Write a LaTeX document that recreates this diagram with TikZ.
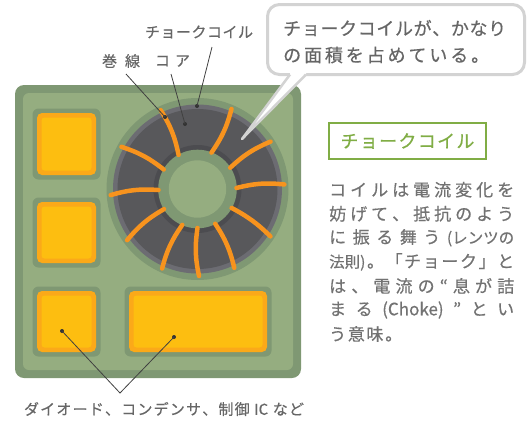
\documentclass[tikz,border=0pt]{standalone}
\usepackage{fontspec}
\newfontfamily\jpfont[FakeBold=0.5]{Noto Sans CJK JP}
\usepackage{tikz}

\definecolor{boardedge}{HTML}{7F9873}
\definecolor{boardfill}{HTML}{95AD80}
\definecolor{padorange}{HTML}{FBA919}
\definecolor{padyellow}{HTML}{FDBE10}
\definecolor{corerim}{HTML}{6C6C72}
\definecolor{coregray}{HTML}{58585B}
\definecolor{coreshade}{HTML}{4C4C50}
\definecolor{wire}{HTML}{F7931E}
\definecolor{labelgray}{HTML}{666666}
\definecolor{bodygray}{HTML}{727272}
\definecolor{bubbleline}{HTML}{D3D3D3}
\definecolor{titlegreen}{HTML}{80AD45}

% spread the units of #2 evenly over a box of width #1
\def\spreadmark{\relax}
\def\spreadfirst#1{\def\spreadtmp{#1}\ifx\spreadtmp\spreadmark\else{#1}\expandafter\spreadrest\fi}
\def\spreadrest#1{\def\spreadtmp{#1}\ifx\spreadtmp\spreadmark\else\hfil{#1}\expandafter\spreadrest\fi}
\newcommand\spreadline[2]{\hbox to #1{\spreadfirst#2\relax}}
\newcommand\smallpart{\fontsize{15.5pt}{18pt}\selectfont}

\begin{document}
\begin{tikzpicture}[x=1pt, y=-1pt,
		jp/.style={font=\jpfont\fontsize{15pt}{18pt}\selectfont, text=labelgray, inner sep=0pt},
		body/.style={font=\jpfont\fontsize{17pt}{20pt}\selectfont, text=bodygray, inner sep=0pt, anchor=west},
		note/.style={font=\jpfont\fontsize{18pt}{21pt}\selectfont, text=labelgray, inner sep=0pt, anchor=west},
		leader/.style={draw=black!75, line width=0.8pt},
		leaddot/.style={circle, fill=black!80, inner sep=0pt, minimum size=4pt},
		wind/.style={draw=wire, line width=4.5pt, line cap=round}]
	
	\useasboundingbox (0,0) rectangle (528,421);
	
	% board
	\fill[boardedge, rounded corners=9pt] (15,85) rectangle (301,378);
	\fill[boardfill, rounded corners=6pt] (23,93) rectangle (293,370);
	
	% pads
	\foreach \xa/\ya/\xb/\yb in {37/113/96/175, 37/202/96/263, 37/291/96/352, 129/291/267/352} {
		\fill[boardedge, rounded corners=6pt] (\xa-4.5,\ya-4.5) rectangle (\xb+4.5,\yb+4.5);
		\fill[padorange, rounded corners=5pt] (\xa,\ya) rectangle (\xb,\yb);
		\fill[padyellow, rounded corners=3pt] (\xa+4.5,\ya+4.5) rectangle (\xb-4.5,\yb-4.5);
	}
	
	% toroidal core
	\coordinate (core) at (197.5,189);
	\fill[boardedge] (core) circle (91pt);
	\fill[corerim] (core) circle (84.5pt);
	\fill[coregray] (core) circle (80pt);
	\fill[coreshade] (core) circle (44pt);
	\fill[boardedge] (core) circle (39.3pt);
	\fill[boardfill] (core) circle (28.7pt);
	
	\foreach \ao/\ai/\bd in {115/119/10, 67/69/10, 33/33/-10, 3/1.5/-10, -33/-29/-8,
		-65/-63/-10, -89/-90/10, -114/-113/10, -144/-149/10, -176/-178.5/10, 151/150/10}
		\draw[wind] ([shift={(\ao:87pt)}]core) to[bend left=\bd] ([shift={(\ai:39pt)}]core);
	
	% callout
	\draw[bubbleline, line width=3pt, fill=white, rounded corners=12pt] (267.5,4.5) rectangle (524.5,74.5);
	\fill[white] (290,70) -- (290,74.5) -- (242,139) -- (306,74.5) -- (306,70) -- cycle;
	\draw[bubbleline, line width=2.5pt, line join=round] (290,74.5) -- (242,139) -- (306,74.5);
	\node[note] (noteA) at (283,28) {\spreadline{223pt}{チョークコイルが、かなり}};
	\node[note] (noteB) at (283,55) {\spreadline{206pt}{の面積を占めている。}};
	
	% labels on the coil
	\node[jp] (coilLabel) at (199,32) {\spreadline{108pt}{チョークコイル}};
	\node[jp] (windLabel) at (121,61) {\spreadline{38pt}{巻線}};
	\node[jp] (coreLabel) at (172.5,61) {\spreadline{35pt}{コア}};
	\coordinate (coilLead) at (212,47);
	\coordinate (windLead) at (126,74);
	\coordinate (coreLead) at (171,74);
	\node[leaddot] (coilDot) at (197,106) {};
	\node[leaddot] (windDot) at (165,117) {};
	\node[leaddot] (coreDot) at (185,124) {};
	\draw[leader] (coilLead) -- (coilDot.center);
	\draw[leader] (windLead) -- (windDot.center);
	\draw[leader] (coreLead) -- (coreDot.center);
	
	% parts
	\node[leaddot] (diodeDot) at (62,331) {};
	\node[leaddot] (capDot) at (174,337) {};
	\coordinate (partsJoin) at (120,393);
	\draw[leader] (diodeDot.center) -- (partsJoin) -- (capDot.center);
	\node[jp] (partsLabel) at (164,409) {\spreadline{280pt}{ダイオード、コンデンサ、制御{ IC }など}};
	
	% side text
	\node[draw=titlegreen, line width=2pt, text=titlegreen, inner sep=0pt,
		minimum width=157pt, minimum height=36pt,
		font=\jpfont\fontsize{18pt}{22pt}\selectfont] (title) at (407.5,141)
		{\spreadline{134pt}{チョークコイル}};
	\node[body] (body1) at (329,189.7) {\spreadline{185pt}{コイルは電流変化を}};
	\node[body] (body2) at (329,213.8) {\spreadline{185pt}{妨げて、抵抗のよう}};
	\node[body] (body3) at (329,237.8) {\spreadline{185pt}{に振る舞う{\smallpart (レンツの}}};
	\node[body] (body4) at (329,261.9) {\spreadline{185pt}{{\smallpart 法則)}。「チョーク」と}};
	\node[body] (body5) at (329,285.9) {\spreadline{185pt}{は、電流の“息が詰}};
	\node[body] (body6) at (329,310.0) {\spreadline{185pt}{まる{(Choke)}”とい}};
	\node[body] (body7) at (329,334.0) {\spreadline{73pt}{う意味。}};
	
\end{tikzpicture}
\end{document}
